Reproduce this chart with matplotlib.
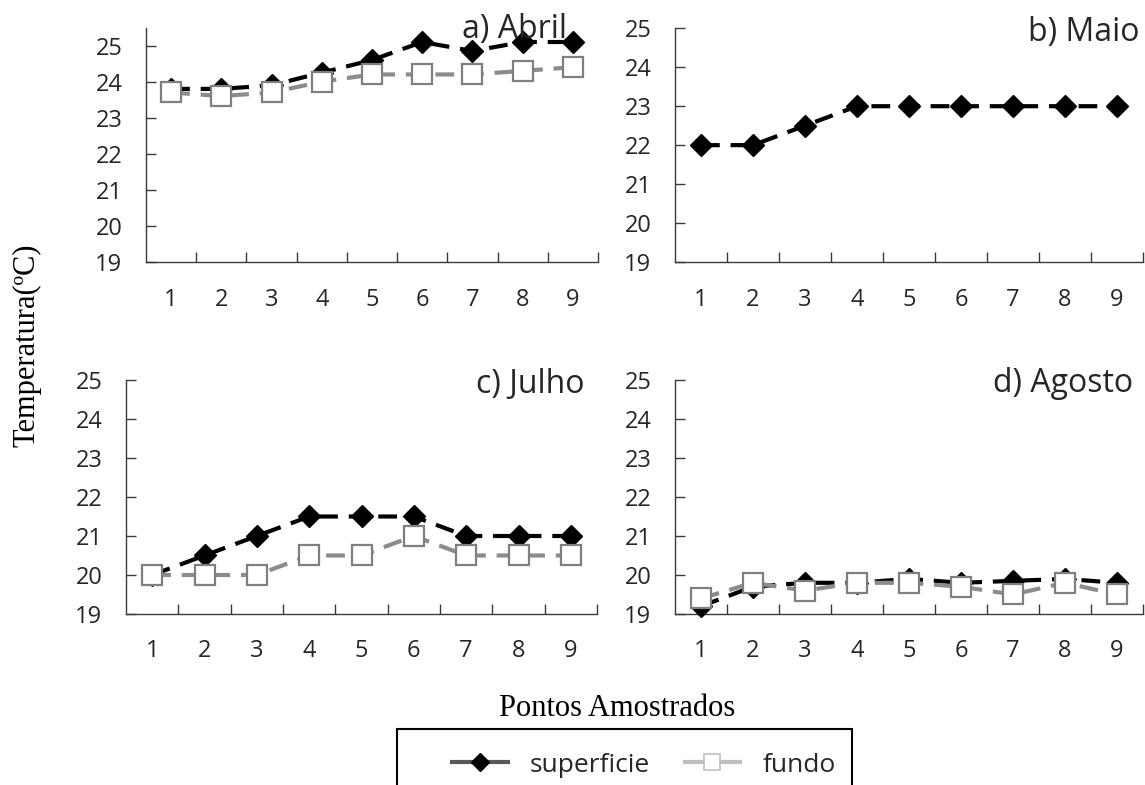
import numpy as np
import matplotlib
matplotlib.use('Agg')
import matplotlib.pyplot as plt
from matplotlib.lines import Line2D
from matplotlib.patches import Rectangle

W, H = 1145, 785

pontos = [1, 2, 3, 4, 5, 6, 7, 8, 9]
y_ticks = [19, 20, 21, 22, 23, 24, 25]

titulos = ['a) Abril', 'b) Maio', 'c) Julho', 'd) Agosto']

abril_sup = [23.8, 23.8, 23.9, 24.25, 24.6, 25.1, 24.85, 25.1, 25.1]
abril_fun = [23.7, 23.6, 23.7, 24.0, 24.2, 24.2, 24.2, 24.3, 24.4]

maio_sup = [22.0, 22.0, 22.5, 23.0, 23.0, 23.0, 23.0, 23.0, 23.0]
maio_fun = None

julho_sup = [20.0, 20.5, 21.0, 21.5, 21.5, 21.5, 21.0, 21.0, 21.0]
julho_fun = [20.0, 20.0, 20.0, 20.5, 20.5, 21.0, 20.5, 20.5, 20.5]

agosto_sup = [19.2, 19.7, 19.8, 19.8, 19.9, 19.8, 19.85, 19.9, 19.8]
agosto_fun = [19.4, 19.8, 19.6, 19.8, 19.8, 19.7, 19.5, 19.8, 19.5]

label_sup = 'superficie'
label_fun = 'fundo'

txt_color = '#262626'
axis_color = '#3a3a3a'
tick_font = 'Open Sans'


def px(x, y):
    # pixel (from top-left) -> figure fraction
    return x / W, 1 - y / H


def box(left, top, right, bottom):
    return [left / W, 1 - bottom / H, (right - left) / W, (bottom - top) / H]


def draw_panel(fig, rect, sup, fun, ytop, xpad):
    ax = fig.add_axes(rect)
    x = np.array(pontos)
    ax.plot(x, sup, color='black', lw=3, dashes=(4.5, 2.6),
            marker='D', markersize=11, markerfacecolor='black',
            markeredgecolor='black', clip_on=False, zorder=3)
    if fun is not None:
        ax.plot(x, fun, color='#8c8c8c', lw=3, dashes=(4.5, 2.6),
                marker='s', markersize=14, markerfacecolor='white',
                markeredgecolor='#7f7f7f', markeredgewidth=1.6,
                clip_on=False, zorder=4)
    ax.set_xlim(0.5, 9.5)
    ax.set_ylim(19, ytop)
    ax.set_xticks(pontos)
    ax.set_xticks(np.arange(1.5, 10, 1.0), minor=True)
    ax.set_yticks(y_ticks)
    ax.tick_params(axis='x', which='major', length=0, pad=xpad,
                   labelsize=17, labelcolor=txt_color)
    ax.tick_params(axis='x', which='minor', direction='in', length=7,
                   width=1, color=axis_color)
    ax.tick_params(axis='y', direction='in', length=7, width=1,
                   color=axis_color, pad=17, labelsize=17,
                   labelcolor=txt_color)
    for lab in ax.get_xticklabels() + ax.get_yticklabels():
        lab.set_family(tick_font)
    for s in ['top', 'right']:
        ax.spines[s].set_visible(False)
    for s in ['left', 'bottom']:
        ax.spines[s].set_color(axis_color)
        ax.spines[s].set_linewidth(1.0)
    return ax


def main():
    fig = plt.figure(figsize=(W / 100, H / 100), dpi=100)

    draw_panel(fig, box(146, 28.3, 598, 262), abril_sup, abril_fun, 25.48, 19)
    draw_panel(fig, box(675, 28.3, 1143, 262), maio_sup, maio_fun, 25, 19)
    draw_panel(fig, box(126, 380, 597, 614), julho_sup, julho_fun, 25, 18)
    draw_panel(fig, box(675, 380, 1143, 614), agosto_sup, agosto_fun, 25, 18)

    # panel titles (text boxes in the original)
    spots = [(567, 38), (1140, 41), (585, 393), (1133, 392)]
    for t, (tx, ty) in zip(titulos, spots):
        fig.text(*px(tx, ty), t, ha='right', va='baseline',
                 fontsize=23, family=tick_font, color=txt_color)

    fig.text(*px(27, 345), 'Temperatura(ºC)', rotation=90, ha='center',
             va='center', fontsize=22, family='Liberation Serif', color='black')
    fig.text(*px(617, 708), 'Pontos Amostrados', ha='center', va='center',
             fontsize=22, family='Liberation Serif', color='black')

    # legend box runs off the bottom edge like the original
    fig.patches.append(Rectangle(px(397, 800), 455 / W, 71 / H,
                                 transform=fig.transFigure, fill=False,
                                 edgecolor='black', lw=1.5, clip_on=False))
    handles = [
        Line2D([], [], color='#595959', lw=3, marker='D', markersize=9,
               markerfacecolor='black', markeredgecolor='black'),
        Line2D([], [], color='#bfbfbf', lw=3, marker='s', markersize=12,
               markerfacecolor='white', markeredgecolor='#bfbfbf',
               markeredgewidth=1.2),
    ]
    leg = fig.legend(handles, [label_sup, label_fun], loc='center',
                     bbox_to_anchor=px(644, 765), ncol=2, frameon=False,
                     handlelength=2.1, handletextpad=0.85,
                     columnspacing=1.3, prop={'family': tick_font, 'size': 19})
    for t in leg.get_texts():
        t.set_color(txt_color)

    fig.savefig('out.png', dpi=100)


if __name__ == '__main__':
    main()
